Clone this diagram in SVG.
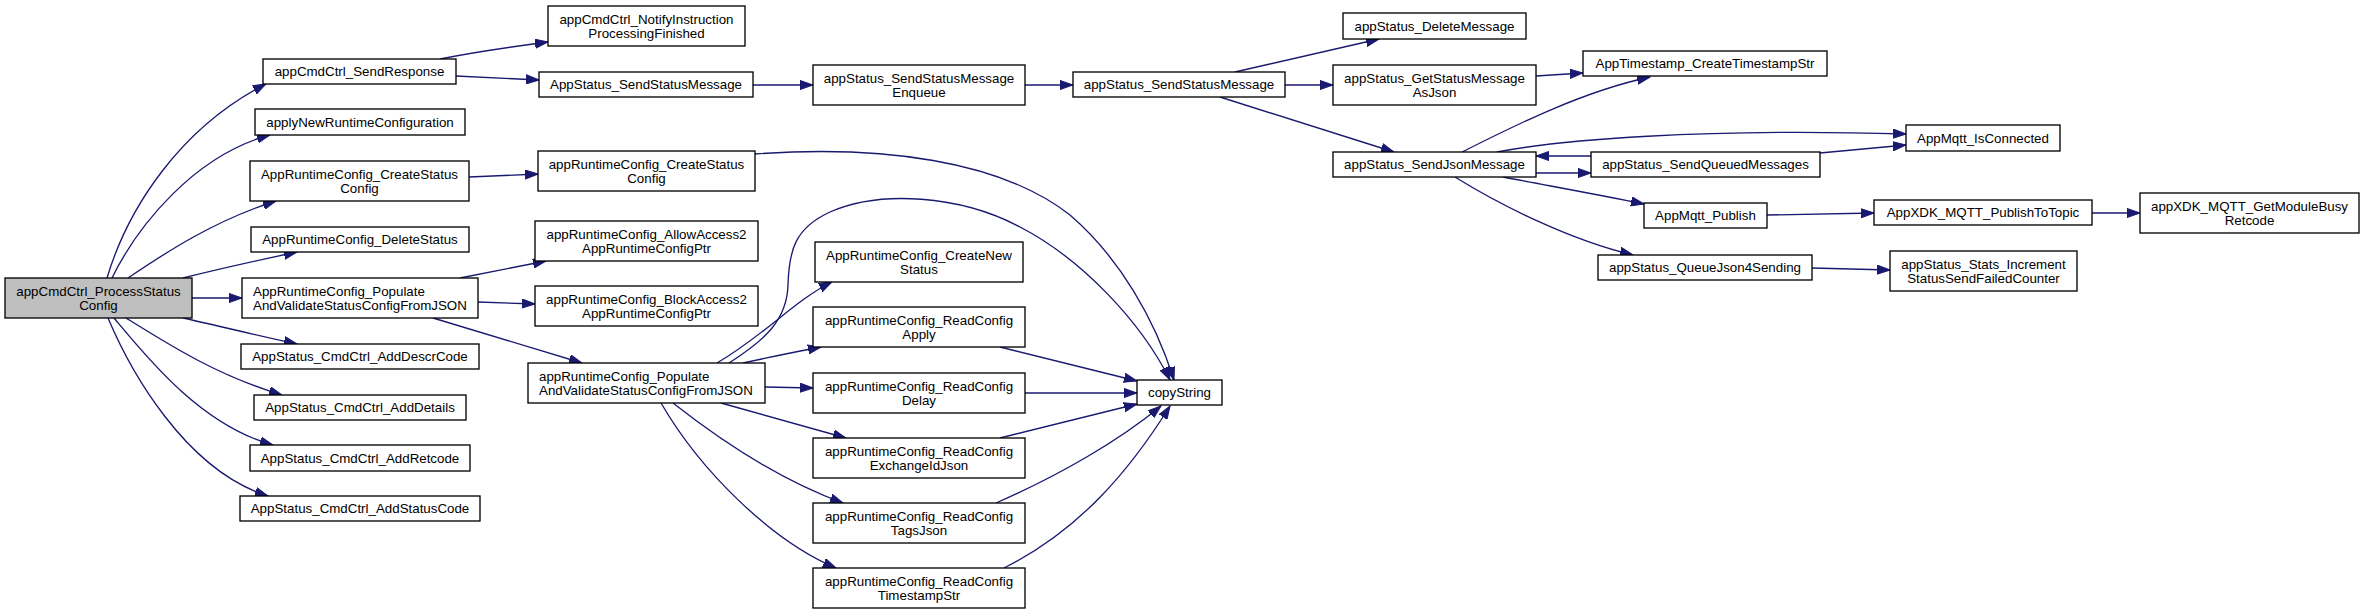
<svg xmlns="http://www.w3.org/2000/svg" width="2364" height="615" viewBox="0 0 2364 615">
<style>
.n rect{fill:#ffffff;stroke:#000000;stroke-width:1.33}
.root rect{fill:#bfbfbf}
text{font-family:"Liberation Sans",Arial,Helvetica,sans-serif;font-size:13.33px;fill:#000000}
.c{text-anchor:middle}
.e path{fill:none;stroke:#191970;stroke-width:1.33;marker-end:url(#a)}
</style>
<defs>
<marker id="a" markerWidth="14" markerHeight="10" refX="13" refY="5" orient="auto" markerUnits="userSpaceOnUse">
<path d="M0,0.4 L13,5 L0,9.6 z" fill="#191970" stroke="#191970" stroke-width="1"/>
</marker>
</defs>
<rect width="2364" height="615" fill="#ffffff"/>
<g class="e" id="connectors">
<path d="M107,278 C128,208 180,128 266,84"/>
<path d="M112,278 C138,225 195,155 270,135"/>
<path d="M128,278 C165,253 215,220 276,201"/>
<path d="M183,278 C215,270 255,261 297,252"/>
<path d="M192,298 L242,298"/>
<path d="M183,318 C215,325 255,335 297,344"/>
<path d="M126,318 C165,342 215,375 282,395"/>
<path d="M114,318 C145,355 200,425 273,445"/>
<path d="M108,318 C130,370 185,470 268,496"/>
<path d="M440,59 C475,52 510,47 548,42"/>
<path d="M456,76 L539,80"/>
<path d="M469,177 L538,174"/>
<path d="M460,278 L546,261"/>
<path d="M478,302 L535,304"/>
<path d="M433,318 L582,363"/>
<path d="M753,85 L813,85"/>
<path d="M1025,85 L1073,85"/>
<path d="M755,154 C880,145 1000,160 1070,215 C1120,258 1155,320 1174,380"/>
<path d="M729,363 C765,340 787,320 788,285 C789,250 795,228 830,212 C880,190 960,195 1020,227 C1080,258 1140,320 1170,380"/>
<path d="M717,363 C765,335 795,300 832,282"/>
<path d="M743,363 C770,357 795,352 821,347"/>
<path d="M765,387 L813,388"/>
<path d="M721,403 L846,438"/>
<path d="M673,403 C720,440 780,480 843,503"/>
<path d="M661,403 C700,470 770,540 836,568"/>
<path d="M1000,347 L1137,381"/>
<path d="M1025,393 L1137,393"/>
<path d="M1000,438 L1137,404"/>
<path d="M996,503 C1060,475 1120,440 1161,406"/>
<path d="M1004,568 C1080,530 1130,470 1170,406"/>
<path d="M1235,72 L1379,39"/>
<path d="M1285,85 L1333,85"/>
<path d="M1220,97 L1394,152"/>
<path d="M1536,76 L1583,73"/>
<path d="M1462,152 C1510,128 1580,92 1650,77"/>
<path d="M1497,152 C1560,140 1700,128 1906,134"/>
<path d="M1536,173 L1591,173"/>
<path d="M1591,156 L1536,156"/>
<path d="M1503,177 C1550,186 1600,195 1644,204"/>
<path d="M1455,177 C1500,205 1570,240 1633,255"/>
<path d="M1820,153 L1906,145"/>
<path d="M1767,215 L1874,213"/>
<path d="M1812,268 L1890,270"/>
<path d="M2092,213 L2140,213"/>
</g>
<g class="n root" id="appCmdCtrl_ProcessStatusConfig"><rect x="5" y="278" width="187" height="40"/><text class="c" x="98.5" y="296">appCmdCtrl_ProcessStatus</text><text class="c" x="98.5" y="310">Config</text></g>
<g class="n" id="appCmdCtrl_SendResponse"><rect x="263" y="59" width="193" height="25"/><text class="c" x="359.5" y="76">appCmdCtrl_SendResponse</text></g>
<g class="n" id="applyNewRuntimeConfiguration"><rect x="255" y="109" width="210" height="26"/><text class="c" x="360" y="126.5">applyNewRuntimeConfiguration</text></g>
<g class="n" id="AppRuntimeConfig_CreateStatusConfig"><rect x="250" y="161" width="219" height="40"/><text class="c" x="359.5" y="179">AppRuntimeConfig_CreateStatus</text><text class="c" x="359.5" y="193">Config</text></g>
<g class="n" id="AppRuntimeConfig_DeleteStatus"><rect x="251" y="227" width="218" height="25"/><text class="c" x="360" y="244">AppRuntimeConfig_DeleteStatus</text></g>
<g class="n" id="AppRuntimeConfig_PopulateAndValidateStatusConfigFromJSON"><rect x="242" y="278" width="236" height="40"/><text x="253" y="296">AppRuntimeConfig_Populate</text><text x="253" y="310">AndValidateStatusConfigFromJSON</text></g>
<g class="n" id="AppStatus_CmdCtrl_AddDescrCode"><rect x="241" y="344" width="238" height="25"/><text class="c" x="360" y="361">AppStatus_CmdCtrl_AddDescrCode</text></g>
<g class="n" id="AppStatus_CmdCtrl_AddDetails"><rect x="254" y="395" width="212" height="25"/><text class="c" x="360" y="412">AppStatus_CmdCtrl_AddDetails</text></g>
<g class="n" id="AppStatus_CmdCtrl_AddRetcode"><rect x="250" y="445" width="220" height="26"/><text class="c" x="360" y="462.5">AppStatus_CmdCtrl_AddRetcode</text></g>
<g class="n" id="AppStatus_CmdCtrl_AddStatusCode"><rect x="240" y="496" width="240" height="25"/><text class="c" x="360" y="513">AppStatus_CmdCtrl_AddStatusCode</text></g>
<g class="n" id="appCmdCtrl_NotifyInstructionProcessingFinished"><rect x="548" y="6" width="197" height="40"/><text class="c" x="646.5" y="24">appCmdCtrl_NotifyInstruction</text><text class="c" x="646.5" y="38">ProcessingFinished</text></g>
<g class="n" id="AppStatus_SendStatusMessage"><rect x="539" y="72" width="214" height="25"/><text class="c" x="646" y="89">AppStatus_SendStatusMessage</text></g>
<g class="n" id="appRuntimeConfig_CreateStatusConfig"><rect x="538" y="151" width="217" height="40"/><text class="c" x="646.5" y="169">appRuntimeConfig_CreateStatus</text><text class="c" x="646.5" y="183">Config</text></g>
<g class="n" id="appRuntimeConfig_AllowAccess2AppRuntimeConfigPtr"><rect x="535" y="221" width="223" height="40"/><text class="c" x="646.5" y="239">appRuntimeConfig_AllowAccess2</text><text class="c" x="646.5" y="253">AppRuntimeConfigPtr</text></g>
<g class="n" id="appRuntimeConfig_BlockAccess2AppRuntimeConfigPtr"><rect x="535" y="286" width="223" height="40"/><text class="c" x="646.5" y="304">appRuntimeConfig_BlockAccess2</text><text class="c" x="646.5" y="318">AppRuntimeConfigPtr</text></g>
<g class="n" id="appRuntimeConfig_PopulateAndValidateStatusConfigFromJSON"><rect x="528" y="363" width="237" height="40"/><text x="539" y="381">appRuntimeConfig_Populate</text><text x="539" y="395">AndValidateStatusConfigFromJSON</text></g>
<g class="n" id="appStatus_SendStatusMessageEnqueue"><rect x="813" y="65" width="212" height="40"/><text class="c" x="919" y="83">appStatus_SendStatusMessage</text><text class="c" x="919" y="97">Enqueue</text></g>
<g class="n" id="AppRuntimeConfig_CreateNewStatus"><rect x="815" y="242" width="208" height="40"/><text class="c" x="919" y="260">AppRuntimeConfig_CreateNew</text><text class="c" x="919" y="274">Status</text></g>
<g class="n" id="appRuntimeConfig_ReadConfigApply"><rect x="813" y="307" width="212" height="40"/><text class="c" x="919" y="325">appRuntimeConfig_ReadConfig</text><text class="c" x="919" y="339">Apply</text></g>
<g class="n" id="appRuntimeConfig_ReadConfigDelay"><rect x="813" y="373" width="212" height="40"/><text class="c" x="919" y="391">appRuntimeConfig_ReadConfig</text><text class="c" x="919" y="405">Delay</text></g>
<g class="n" id="appRuntimeConfig_ReadConfigExchangeIdJson"><rect x="813" y="438" width="212" height="40"/><text class="c" x="919" y="456">appRuntimeConfig_ReadConfig</text><text class="c" x="919" y="470">ExchangeIdJson</text></g>
<g class="n" id="appRuntimeConfig_ReadConfigTagsJson"><rect x="813" y="503" width="212" height="40"/><text class="c" x="919" y="521">appRuntimeConfig_ReadConfig</text><text class="c" x="919" y="535">TagsJson</text></g>
<g class="n" id="appRuntimeConfig_ReadConfigTimestampStr"><rect x="813" y="568" width="212" height="40"/><text class="c" x="919" y="586">appRuntimeConfig_ReadConfig</text><text class="c" x="919" y="600">TimestampStr</text></g>
<g class="n" id="appStatus_SendStatusMessage"><rect x="1073" y="72" width="212" height="25"/><text class="c" x="1179" y="89">appStatus_SendStatusMessage</text></g>
<g class="n" id="copyString"><rect x="1137" y="380" width="85" height="25"/><text class="c" x="1179.5" y="397">copyString</text></g>
<g class="n" id="appStatus_DeleteMessage"><rect x="1343" y="13" width="183" height="26"/><text class="c" x="1434.5" y="30.5">appStatus_DeleteMessage</text></g>
<g class="n" id="appStatus_GetStatusMessageAsJson"><rect x="1333" y="65" width="203" height="40"/><text class="c" x="1434.5" y="83">appStatus_GetStatusMessage</text><text class="c" x="1434.5" y="97">AsJson</text></g>
<g class="n" id="appStatus_SendJsonMessage"><rect x="1333" y="152" width="203" height="25"/><text class="c" x="1434.5" y="169">appStatus_SendJsonMessage</text></g>
<g class="n" id="AppTimestamp_CreateTimestampStr"><rect x="1583" y="51" width="244" height="25"/><text class="c" x="1705" y="68">AppTimestamp_CreateTimestampStr</text></g>
<g class="n" id="appStatus_SendQueuedMessages"><rect x="1591" y="152" width="229" height="25"/><text class="c" x="1705.5" y="169">appStatus_SendQueuedMessages</text></g>
<g class="n" id="AppMqtt_Publish"><rect x="1644" y="203" width="123" height="25"/><text class="c" x="1705.5" y="220">AppMqtt_Publish</text></g>
<g class="n" id="appStatus_QueueJson4Sending"><rect x="1598" y="255" width="214" height="25"/><text class="c" x="1705" y="272">appStatus_QueueJson4Sending</text></g>
<g class="n" id="AppMqtt_IsConnected"><rect x="1906" y="125" width="154" height="26"/><text class="c" x="1983" y="142.5">AppMqtt_IsConnected</text></g>
<g class="n" id="AppXDK_MQTT_PublishToTopic"><rect x="1874" y="200" width="218" height="25"/><text class="c" x="1983" y="217">AppXDK_MQTT_PublishToTopic</text></g>
<g class="n" id="appStatus_Stats_IncrementStatusSendFailedCounter"><rect x="1890" y="251" width="187" height="40"/><text class="c" x="1983.5" y="269">appStatus_Stats_Increment</text><text class="c" x="1983.5" y="283">StatusSendFailedCounter</text></g>
<g class="n" id="appXDK_MQTT_GetModuleBusyRetcode"><rect x="2140" y="193" width="219" height="40"/><text class="c" x="2249.5" y="211">appXDK_MQTT_GetModuleBusy</text><text class="c" x="2249.5" y="225">Retcode</text></g>
</svg>
